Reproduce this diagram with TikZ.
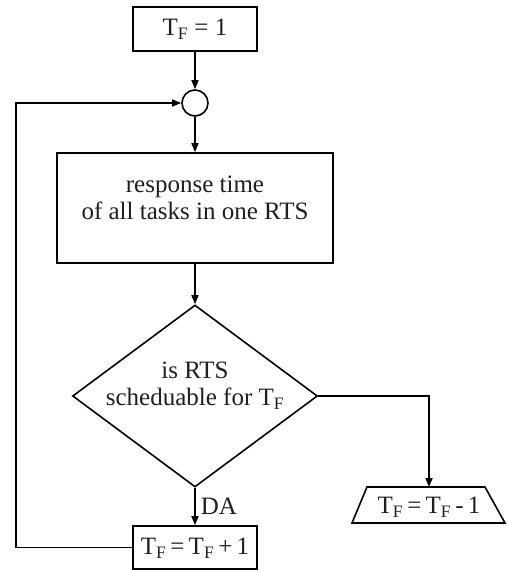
\documentclass[tikz,border=0pt]{standalone}
\usepackage{fontspec}
\setmainfont{Liberation Serif}
\usetikzlibrary{shapes.geometric, arrows.meta}
\newcommand{\TF}{T\textsubscript{F}}
\begin{document}
\begin{tikzpicture}[x=1pt,y=-1pt, line width=1.6pt,
  box/.style={draw, rectangle, inner sep=0pt},
  lbl/.style={font=\fontsize{25}{27}\selectfont, align=center, inner sep=0pt, text=black!88},
  arr/.style={-{Triangle[length=9pt,width=7pt]}}]
\useasboundingbox (0,0) rectangle (507,571);
% boxes
\node[box, minimum width=124pt, minimum height=44pt] (start) at (195,29) {};
\node[lbl] (startt) at (195,29) {\TF{} = 1};
\node[draw, circle, minimum size=26pt, inner sep=0pt] (join) at (195,103) {};
\node[box, minimum width=276pt, minimum height=110pt] (calc) at (195,208) {};
\node[lbl] (calct) at (195,198) {response time\\of all tasks in one RTS};
\node[diamond, draw, minimum width=245pt, minimum height=182pt, inner sep=0pt] (dec) at (195,396) {};
\node[lbl] (dect) at (195,386) {is RTS\\scheduable for \TF};
\node[box, minimum width=124pt, minimum height=43pt] (inc) at (195,547.5) {};
\node[lbl] (inct) at (195,548) {\TF\,=\,\TF\,+\,1};
% trapezoid (output)
\draw (367,487) -- (485,487) -- (505,523) -- (352,523) -- cycle;
\coordinate (dec2) at (429,487);
\node[lbl] (dec2t) at (429,507) {\TF\,=\,\TF\,-\,1};
\coordinate (loop) at (16,547.5);
% connectors
\draw[arr] (start) -- (join);
\draw[arr] (join) -- (calc);
\draw[arr] (calc) -- (dec);
\draw[arr] (dec) -- node[lbl, right=5pt] (da) {DA} (inc);
\draw[arr] (dec.east) -| (dec2);
\draw[arr] (inc.west) -- (loop) |- (join.west);
\end{tikzpicture}
\end{document}
